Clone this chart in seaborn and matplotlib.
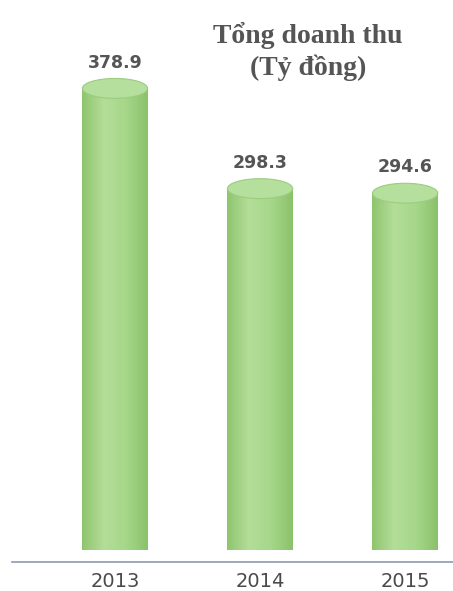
import matplotlib
matplotlib.use("Agg")
import matplotlib.pyplot as plt
from matplotlib.patches import Ellipse
from matplotlib.colors import LinearSegmentedColormap
import seaborn as sns
import pandas as pd
import numpy as np

# datos
nam = ["2013", "2014", "2015"]
doanh_thu = [378.9, 298.3, 294.6]

df = pd.DataFrame({"Nam": nam, "DoanhThu": doanh_thu})

sns.set_style("white")

fig = plt.figure(figsize=(4.53, 5.91), dpi=100)
ax = fig.add_axes([12 / 453, 29 / 591, 1 - 12 / 453, 562 / 591])

cap = 8  # media altura de la tapa del cilindro (unidades de datos)
ancho = 0.45
degradado = LinearSegmentedColormap.from_list(
    "cil", ["#8fc56f", "#b3de98", "#a6d78a", "#8cc26b"])

df["Cuerpo"] = df["DoanhThu"] - cap
sns.barplot(data=df, x="Nam", y="Cuerpo", color="#a3d685", width=ancho,
            saturation=1, ax=ax, zorder=2)

# sombreado tipo cilindro sobre cada barra
grad = np.linspace(0, 1, 64).reshape(1, -1)
for barra in ax.patches:
    x0, y0 = barra.get_x(), barra.get_y()
    im = ax.imshow(grad, cmap=degradado, aspect="auto", zorder=2.5,
                   extent=[x0, x0 + barra.get_width(), y0, y0 + barra.get_height()])
    im.set_clip_path(barra)

for i, v in enumerate(df["DoanhThu"]):
    ax.add_patch(Ellipse((i, v - cap), ancho, 2 * cap, facecolor="#b5df9c",
                         edgecolor="#9ccc80", linewidth=0.8, zorder=3))
    ax.annotate(f"{v:.1f}", (i, v), xytext=(0, 5), textcoords="offset points",
                ha="center", va="bottom", fontsize=12.5, fontweight="bold",
                color="#555555", family="DejaVu Sans")

ax.set_xlim(-0.71, 2.33)
ax.set_ylim(-10, 442)
ax.set_xlabel("")
ax.set_ylabel("")
ax.set_yticks([])
ax.tick_params(axis="x", length=0, pad=7, labelsize=14, labelcolor="#4a4a4a")

for s in ["top", "right", "left"]:
    ax.spines[s].set_visible(False)
ax.spines["bottom"].set_color("#8a9bb0")
ax.spines["bottom"].set_linewidth(1.2)

fig.text(0.68, 0.94, "Tổng doanh thu", ha="center", va="center",
         fontsize=20, fontweight="bold", color="#555555",
         family=["Liberation Serif", "DejaVu Serif"])
fig.text(0.68, 0.885, "(Tỷ đồng)", ha="center", va="center",
         fontsize=20, fontweight="bold", color="#555555",
         family=["Liberation Serif", "DejaVu Serif"])

fig.savefig("out.png", dpi=100)
